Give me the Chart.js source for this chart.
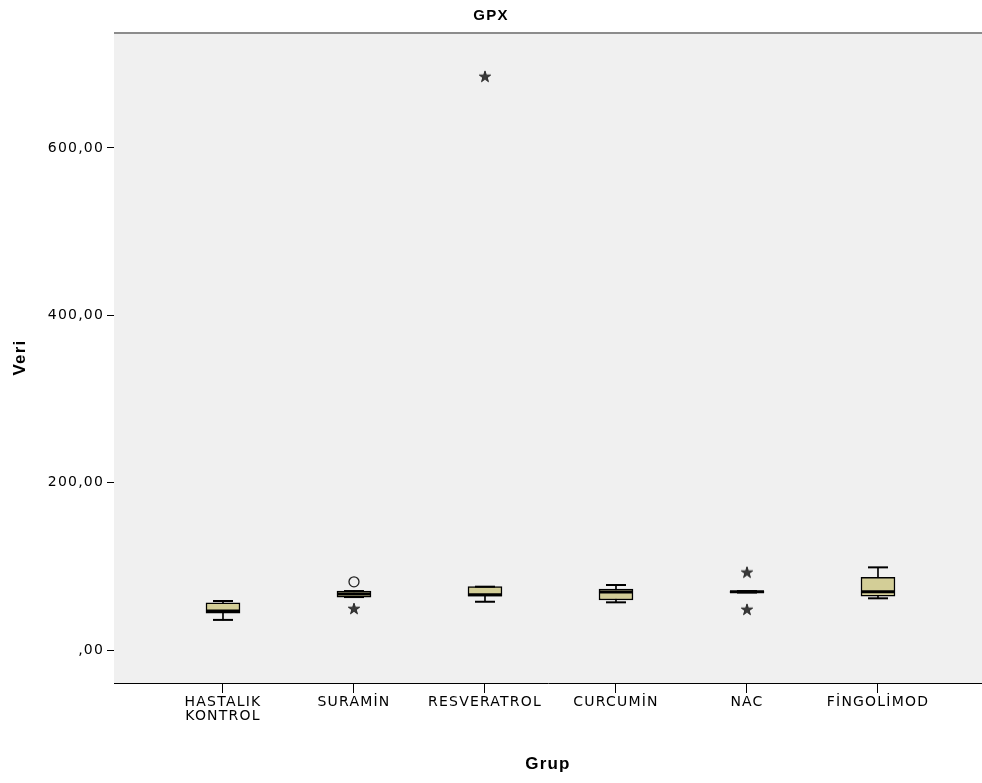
<!DOCTYPE html>
<html>
<head>
<meta charset="utf-8">
<title>GPX</title>
<script src="https://cdn.jsdelivr.net/npm/chart.js@4/dist/chart.umd.min.js"></script>
<style>
  html, body { margin: 0; padding: 0; background: #ffffff; }
  #wrap { width: 982px; height: 783px; }
</style>
</head>
<body>
<div id="wrap"><canvas id="c" width="982" height="783"></canvas></div>
<script>
// Groups on the x axis
const groups = [['HASTALIK', 'KONTROL'], 'SURAMİN', 'RESVERATROL', 'CURCUMİN', 'NAC', 'FİNGOLİMOD'];

// Five-number summaries per group
const whiskerLow  = [36.0, 63.3, 57.7, 57.0, 68.7, 61.8];
const q1          = [44.2, 63.3, 64.5, 59.8, 68.7, 64.5];
const median      = [46.5, 67.0, 66.0, 69.5, 69.6, 69.8];
const q3          = [56.5, 70.5, 75.7, 72.9, 70.5, 86.9];
const whiskerHigh = [58.6, 70.5, 75.7, 77.7, 70.5, 98.8];

// Outliers (circle) and extreme values (star): group index and value
const outlierGroup = [1];
const outlierValue = [81.5];
const extremeGroup = [1, 2, 4, 4];
const extremeValue = [49.0, 685.0, 92.5, 48.0];

// Y axis ticks
const yTicks = [0, 200, 400, 600];

const FONT = "'DejaVu Sans', sans-serif";
const BOLD = "'Liberation Sans', sans-serif";

// Small five-armed star used for extreme values
function makeStar() {
  const s = 14;
  const cv = document.createElement('canvas');
  cv.width = s; cv.height = s;
  const g = cv.getContext('2d');
  const cx = s / 2, cy = s / 2, ro = 6, ri = 2.3;
  g.beginPath();
  for (let i = 0; i < 10; i++) {
    const r = i % 2 === 0 ? ro : ri;
    const a = -Math.PI / 2 + i * Math.PI / 5;
    const x = cx + r * Math.cos(a), y = cy + r * Math.sin(a);
    if (i === 0) g.moveTo(x, y); else g.lineTo(x, y);
  }
  g.closePath();
  g.fillStyle = '#3a3a3a';
  g.fill();
  g.lineWidth = 0.8;
  g.strokeStyle = '#111';
  g.stroke();
  return cv;
}
const starImg = makeStar();

const idx = groups.map((_, i) => i);

// Slightly wider letter spacing for all chart text (set after any canvas resize)
const spacing = {
  id: 'spacing',
  beforeUpdate(chart) { chart.ctx.letterSpacing = '1.2px'; },
  beforeDraw(chart) { chart.ctx.letterSpacing = '1.2px'; }
};

// Plot background and the thin top frame line
const plotFrame = {
  id: 'plotFrame',
  beforeDatasetsDraw(chart) {
    const { ctx, chartArea: a } = chart;
    ctx.save();
    ctx.fillStyle = '#f0f0f0';
    ctx.fillRect(a.left, a.top, a.right - a.left, a.bottom - a.top);
    ctx.strokeStyle = '#8c8c8c';
    ctx.lineWidth = 2;
    ctx.beginPath();
    ctx.moveTo(a.left, a.top + 1);
    ctx.lineTo(a.right, a.top + 1);
    ctx.stroke();
    ctx.restore();
  }
};

new Chart(document.getElementById('c'), {
  type: 'bar',
  data: {
    datasets: [
      { // whisker stems
        type: 'bar', order: 5, grouped: false,
        data: idx.map(i => ({ x: i, y: [whiskerLow[i], whiskerHigh[i]] })),
        backgroundColor: '#000', borderWidth: 0, barThickness: 1
      },
      { // boxes (Q1..Q3)
        type: 'bar', order: 4, grouped: false,
        data: idx.map(i => ({ x: i, y: [q1[i], q3[i]] })),
        backgroundColor: 'rgb(211,206,151)', borderColor: '#000',
        borderWidth: 1.5, borderSkipped: false, barThickness: 34
      },
      { // whisker caps
        type: 'scatter', order: 3,
        data: idx.flatMap(i => [{ x: i, y: whiskerLow[i] }, { x: i, y: whiskerHigh[i] }]),
        pointStyle: 'line', radius: 10, borderWidth: 2, borderColor: '#000'
      },
      { // medians
        type: 'scatter', order: 2,
        data: idx.map(i => ({ x: i, y: median[i] })),
        pointStyle: 'line', radius: 17, borderWidth: 3, borderColor: '#000'
      },
      { // outliers
        type: 'scatter', order: 1,
        data: outlierGroup.map((g, k) => ({ x: g, y: outlierValue[k] })),
        pointStyle: 'circle', radius: 5, borderWidth: 1.3,
        borderColor: '#222', backgroundColor: 'rgba(0,0,0,0)'
      },
      { // extreme values
        type: 'scatter', order: 0,
        data: extremeGroup.map((g, k) => ({ x: g, y: extremeValue[k] })),
        pointStyle: starImg
      }
    ]
  },
  options: {
    responsive: false,
    animation: false,
    devicePixelRatio: 1,
    layout: { padding: 0, autoPadding: false },
    plugins: {
      legend: { display: false },
      tooltip: { enabled: false },
      title: {
        display: true, text: 'GPX', color: '#000',
        font: { family: BOLD, size: 15, weight: 'bold' },
        padding: { top: 7, bottom: 7 }
      }
    },
    scales: {
      x: {
        type: 'linear', min: -0.832, max: 5.794, offset: false,
        afterFit(s) { s.height = 100; },
        afterBuildTicks(s) { s.ticks = idx.map(v => ({ value: v })); },
        ticks: {
          color: '#000', padding: 3, maxRotation: 0, autoSkip: false,
          font: { family: FONT, size: 14, lineHeight: 0.95 },
          callback: v => groups[v]
        },
        grid: { offset: false, drawOnChartArea: false, drawTicks: true, tickLength: 10, color: '#000', tickWidth: 1 },
        border: { display: true, color: '#000', width: 1 },
        title: {
          display: true, text: 'Grup', color: '#000',
          font: { family: BOLD, size: 17, weight: 'bold' },
          padding: { top: 0, bottom: 8 }
        }
      },
      y: {
        type: 'linear', min: -39.4, max: 738.6,
        afterFit(s) { s.width = 114; },
        afterBuildTicks(s) { s.ticks = yTicks.map(v => ({ value: v })); },
        ticks: {
          color: '#000', padding: 3,
          font: { family: FONT, size: 14 },
          callback: v => (v === 0 ? '' : String(v)) + ',00'
        },
        grid: { drawOnChartArea: false, drawTicks: true, tickLength: 7, color: '#000', tickWidth: 1 },
        border: { display: true, color: '#000', width: 1 },
        title: {
          display: true, text: 'Veri', color: '#000',
          font: { family: BOLD, size: 17, weight: 'bold' },
          padding: { top: 10, bottom: 0 }
        }
      }
    }
  },
  plugins: [spacing, plotFrame]
});
</script>
</body>
</html>
